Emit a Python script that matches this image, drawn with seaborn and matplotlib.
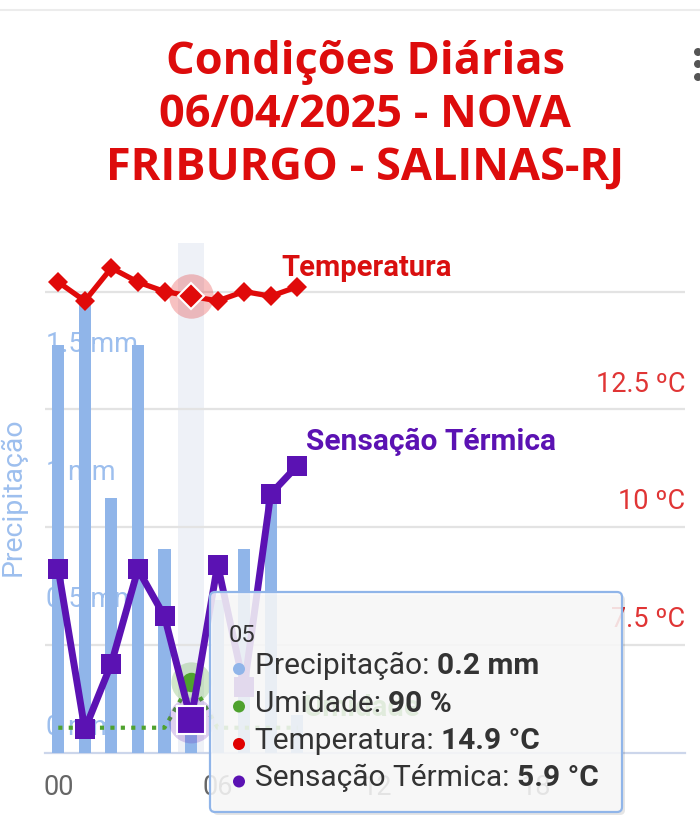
import numpy as np
import pandas as pd
import matplotlib
matplotlib.use("Agg")
import matplotlib.pyplot as plt
import seaborn as sns
from matplotlib.patches import FancyBboxPatch, Ellipse
from matplotlib.lines import Line2D
from matplotlib.text import Annotation

# ---------------- data ----------------
hours = [0, 1, 2, 3, 4, 5, 6, 7, 8, 9]
precip = [1.6, 1.8, 1.0, 1.6, 0.8, 0.2, 0.6, 0.8, 1.0, 0.15]
humidity = [88, 88, 88, 88, 88, 90, 88, 88, 88, 88]
temperature = [15.2, 14.8, 15.5, 15.2, 15.0, 14.9, 14.8, 15.0, 14.9, 15.1]
feels_like = [9.1, 5.7, 7.1, 9.1, 8.1, 5.9, 9.2, 6.6, 10.7, 11.3]

x_ticks = [0, 6, 12, 18]
x_tick_labels = ["00", "06", "12", "18"]
precip_ticks = [0, 0.5, 1, 1.5]
precip_tick_labels = ["0 mm", "0.5 mm", "1 mm", "1.5 mm"]
temp_grid = [7.5, 10, 12.5, 15]
temp_label_ticks = [7.5, 10, 12.5]
temp_tick_labels = ["7.5 ºC", "10 ºC", "12.5 ºC"]

title_lines = ["Condições Diárias", "06/04/2025 - NOVA", "FRIBURGO - SALINAS-RJ"]
series_names = ["Precipitação", "Umidade", "Temperatura", "Sensação Térmica"]
hover = 5  # index of hovered point

# ---------------- style ----------------
C_PREC = "#90b5e9"
C_HUM = "#4fa22e"
C_TEMP = "#e00a0a"
C_FEEL = "#5b12b3"
C_TITLE = "#dd0c0c"
C_AXLAB = "#e03535"

sns.set_style("white")
plt.rcParams["font.family"] = ["Roboto", "DejaVu Sans"]

W, H = 700, 825
fig = plt.figure(figsize=(W / 100, H / 100), dpi=100)
fig.patch.set_facecolor("white")


def P(x, y):
    """pixel (from top-left) -> inches for dpi_scale_trans"""
    return x / 100, (H - y) / 100


# plot area: x 45..685, y 243..753
axT = fig.add_axes([45 / W, (H - 753) / H, 640 / W, 510 / H])
axP = axT.twinx()
axH = axT.twinx()
axL = axT.twinx()

xlim = (-0.5, 23.6)
tlim = (5.2, 16.03)

# --- base axis: grid, band, x ticks, temperature labels
axT.set_xlim(*xlim)
axT.set_ylim(*tlim)
for g in temp_grid:
    axT.axhline(g, color="#e3e3e3", lw=1.6, zorder=1)
axT.axvspan(hours[hover] - 0.5, hours[hover] + 0.5, color="#eef1f7", zorder=0.5, lw=0)
axT.set_xticks(x_ticks)
axT.set_xticklabels(x_tick_labels)
axT.tick_params(axis="x", length=0, pad=15, labelsize=19.5, labelcolor="#666666")
axT.set_yticks([])
for s in ["top", "left", "right"]:
    axT.spines[s].set_visible(False)
axT.spines["bottom"].set_color("#ccd6eb")
axT.spines["bottom"].set_linewidth(1.6)
axT.spines["bottom"].set_zorder(0.6)
for v, l in zip(temp_label_ticks, temp_tick_labels):
    axT.annotate(l, xy=(1, v), xycoords=("axes fraction", "data"),
                 xytext=(0, 18), textcoords="offset points",
                 ha="right", va="center", fontsize=19.5, color=C_AXLAB)

# --- precipitation bars
sns.barplot(x=hours, y=precip, ax=axP, native_scale=True, width=0.46,
            color=C_PREC, saturation=1, zorder=2, linewidth=0)
axP.set_xlim(*xlim)
axP.set_ylim(0, 2.0)
for v, l in zip(precip_ticks, precip_tick_labels):
    axP.annotate(l, xy=(0, v), xycoords=("axes fraction", "data"),
                 xytext=(0.5, 18.5), textcoords="offset points",
                 ha="left", va="center", fontsize=19.5, color="#9dbfee", zorder=1)

# --- humidity (hidden axis)
sns.lineplot(x=hours, y=humidity, ax=axH, color=C_HUM, lw=3.0,
             linestyle=(0, (1.0, 1.5)), dash_capstyle="butt", zorder=2)
axH.set_ylim(86.9, 109.1)
axH.plot([hours[hover]], [humidity[hover]], "o", ms=29, color=C_HUM, alpha=0.25, mew=0, zorder=1)
axH.plot([hours[hover]], [humidity[hover]], "o", ms=14, color=C_HUM, mew=0, zorder=3)

# --- temperature and feels-like
axL.set_ylim(*tlim)
axL.plot([hours[hover]], [temperature[hover]], "o", ms=32, color=C_TEMP, alpha=0.25, mew=0, zorder=1)
axL.plot([hours[hover]], [feels_like[hover]], "o", ms=33, color=C_FEEL, alpha=0.2, mew=0, zorder=1)
sns.lineplot(x=hours, y=temperature, ax=axL, color=C_TEMP, lw=3.8,
             marker="D", markersize=10, markeredgewidth=0, zorder=3)
sns.lineplot(x=hours, y=feels_like, ax=axL, color=C_FEEL, lw=5.0,
             marker="s", markersize=14.5, markeredgewidth=0, zorder=4)
axL.plot([hours[hover]], [temperature[hover]], "D", ms=13.5, color=C_TEMP,
         mec="white", mew=1.5, zorder=5)
axL.plot([hours[hover]], [feels_like[hover]], "s", ms=20.5, color=C_FEEL,
         mec="white", mew=1.5, zorder=5)
axL.set_ylim(*tlim)
axL.set_xlim(*xlim)

for a in (axP, axH, axL):
    a.set_yticks([])
    a.set_ylabel("")
    a.set_xlabel("")
    for s in a.spines.values():
        s.set_visible(False)
axT.set_xlabel("")

# --- axis title
fig.text(*P(13, 497), "Precipitação", transform=fig.dpi_scale_trans, rotation=90,
         ha="center", va="center", fontsize=20.5, color="#9dbfee")

# --- title
for i, line in enumerate(title_lines):
    fig.text(*P(365, 74 + 53 * i), line, transform=fig.dpi_scale_trans,
             ha="center", va="baseline", fontsize=32.5, fontweight="bold",
             color=C_TITLE, family=["Open Sans", "DejaVu Sans"])

# top separator and menu dots
fig.add_artist(Line2D([0, 7.0], [P(0, 10)[1]] * 2, transform=fig.dpi_scale_trans,
                      color="#ececec", lw=1.5))
for yy in (52, 64, 77):
    fig.add_artist(Ellipse(P(698, yy), 0.08, 0.08, transform=fig.dpi_scale_trans,
                           color="#555555", lw=0))

# --- series labels
fig.text(*P(281, 268), series_names[2], transform=fig.dpi_scale_trans, ha="left",
         va="center", fontsize=21, fontweight="bold", color="#d90f0f", zorder=2)
fig.text(*P(306, 442), series_names[3], transform=fig.dpi_scale_trans, ha="left",
         va="center", fontsize=21.5, fontweight="bold", color=C_FEEL, zorder=2)
fig.text(*P(303, 708), series_names[1], transform=fig.dpi_scale_trans, ha="left",
         va="center", fontsize=21, fontweight="bold", color=C_HUM, zorder=2)

# --- tooltip
bx0, by0, bx1, by1 = 210, 592, 622, 812
fig.add_artist(FancyBboxPatch(P(bx0 + 3, by1 + 3), (bx1 - bx0) / 100, (by1 - by0) / 100,
                              boxstyle="round,pad=0,rounding_size=0.05",
                              transform=fig.dpi_scale_trans, fc=(0, 0, 0, 0.10),
                              lw=0, zorder=5))
fig.add_artist(FancyBboxPatch(P(bx0, by1), (bx1 - bx0) / 100, (by1 - by0) / 100,
                              boxstyle="round,pad=0,rounding_size=0.05",
                              transform=fig.dpi_scale_trans, fc=(0.985, 0.985, 0.985, 0.86),
                              ec=C_PREC, lw=1.6, zorder=6))
fig.text(*P(229, 642), f"{hours[hover]:02d}", transform=fig.dpi_scale_trans,
         ha="left", va="baseline", fontsize=17, color="#333333", zorder=7)

rows = [
    (series_names[0], f"{precip[hover]} mm", C_PREC),
    (series_names[1], f"{humidity[hover]} %", C_HUM),
    (series_names[2], f"{temperature[hover]} °C", "#e00000"),
    (series_names[3], f"{feels_like[hover]} °C", C_FEEL),
]
for i, (name, val, col) in enumerate(rows):
    base = 680 + 37.5 * i
    fig.add_artist(Ellipse(P(239, base - 11), 0.12, 0.12, transform=fig.dpi_scale_trans,
                           color=col, lw=0, zorder=7))
    t = fig.text(*P(255, base), name + ": ", transform=fig.dpi_scale_trans,
                 ha="left", va="bottom", fontsize=21.5, color="#333333", zorder=7)
    fig.add_artist(Annotation(val, xy=(1, 0), xycoords=t, ha="left", va="bottom",
                              fontsize=21.5, fontweight="bold", color="#333333", zorder=7))

fig.savefig("out.png", dpi=100, facecolor="white")
